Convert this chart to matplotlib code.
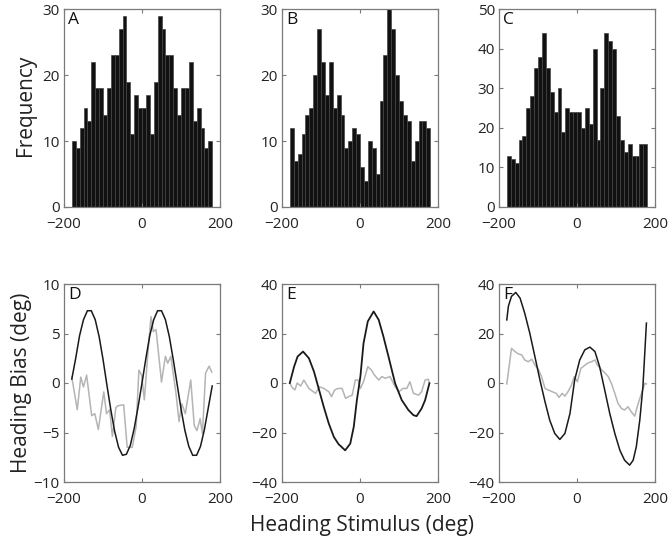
import numpy as np
import matplotlib
matplotlib.use("Agg")
import matplotlib.pyplot as plt

plt.rcParams["font.family"] = ["Open Sans", "DejaVu Sans"]

# --------------------------------------------------------------------
# Data
# --------------------------------------------------------------------
bin_centers = np.arange(-175, 180, 10)

freq_a = [10, 9, 12, 15, 13, 22, 18, 18, 14, 18, 23, 23, 27, 29, 19, 11, 17, 15,
          15, 17, 11, 19, 29, 27, 23, 23, 18, 14, 18, 18, 22, 13, 15, 12, 9, 10]
freq_b = [12, 7, 8, 11, 14, 15, 20, 27, 22, 17, 22, 15, 17, 14, 9, 10, 12, 11,
          6, 4, 10, 9, 5, 16, 23, 30, 27, 20, 16, 14, 13, 7, 10, 13, 13, 12]
freq_c = [13, 12, 11, 17, 18, 25, 28, 35, 38, 44, 35, 29, 24, 30, 19, 25, 24, 24,
          24, 20, 25, 21, 40, 17, 30, 44, 42, 40, 23, 17, 14, 16, 13, 13, 16, 16]

# panel D
d_model_x = list(range(-180, 181, 10))
d_model_y = [0.4, 2.5, 4.8, 6.4, 7.3, 7.3, 6.4, 4.7, 2.4, -0.2, -2.7, -4.9, -6.5,
             -7.3, -7.2, -6.3, -4.6, -2.4, 0.0, 2.5, 4.8, 6.4, 7.3, 7.3, 6.4, 4.7,
             2.4, -0.1, -2.6, -4.8, -6.4, -7.3, -7.3, -6.4, -4.7, -2.5, -0.3]
d_data_x = [-180, -166, -157, -150, -142, -129, -121, -112, -98, -91, -83, -76,
            -67, -62, -47, -38, -25, -15, -8, -1, 6, 15, 23, 29, 36, 50, 60, 66,
            74, 87, 95, 102, 111, 125, 134, 141, 149, 155, 163, 172, 179]
d_data_y = [0.6, -2.7, 0.6, -0.4, 0.8, -3.3, -3.1, -4.7, -0.9, -3.1, -2.7, -5.4,
            -2.5, -2.3, -2.2, -6.5, -6.5, -4.4, 1.3, 0.8, -1.7, 3.0, 6.7, 5.2, 5.4,
            0.1, 2.7, 2.0, 2.7, -1.0, -3.9, -2.1, -3.1, 0.3, -4.3, -4.8, -3.6, -5.1,
            1.0, 1.7, 1.1]

# panel E
e_model_x = [-180, -169, -160, -146, -131, -118, -106, -93, -80, -67, -55, -38,
             -25, -16, -8, 1, 9, 20, 35, 48, 60, 73, 90, 107, 124, 137, 145, 158,
             167, 178]
e_model_y = [0.0, 6.6, 10.7, 12.7, 10.0, 4.6, -2.2, -9.6, -16.4, -21.8, -24.7,
             -27.2, -24.5, -17.7, -6.9, 2.6, 16.0, 24.9, 28.9, 25.5, 18.8, 10.7,
             -0.1, -6.9, -10.9, -13.0, -13.4, -10.3, -6.9, -0.1]
e_data_x = [-180, -174, -167, -161, -152, -144, -131, -114, -104, -93, -80, -73,
            -65, -56, -46, -37, -29, -20, -12, -5, 1, 9, 20, 29, 37, 48, 56, 65, 77,
            90, 100, 110, 120, 128, 137, 150, 158, 167, 175, 178]
e_data_y = [0.0, -1.8, -2.8, 0.0, -1.2, 1.2, -2.2, -4.2, -1.5, -2.2, -3.5, -5.5,
            -2.8, -2.2, -2.2, -6.2, -5.5, -4.9, 1.2, 1.2, -2.2, 0.5, 6.6, 5.3, 3.2,
            1.2, 2.6, 1.9, 2.6, -1.5, -3.5, -2.2, -2.2, 0.5, -4.2, -4.9, -3.5, 1.2,
            1.5, 0.0]

# panel F
f_model_x = [-180, -176, -168, -157, -146, -134, -121, -108, -95, -82, -70, -57,
             -44, -31, -18, -6, 7, 20, 33, 46, 58, 71, 84, 97, 110, 122, 135, 144,
             152, 161, 169, 178]
f_model_y = [25.5, 31.0, 35.0, 36.6, 34.3, 28.2, 20.1, 10.7, 1.2, -7.6, -15.0,
             -20.4, -22.8, -20.4, -12.3, 1.2, 9.3, 13.4, 14.5, 12.7, 6.6, -2.8,
             -12.3, -20.4, -27.2, -31.2, -33.2, -31.2, -25.8, -15.0, -1.5, 24.2]
f_data_x = [-180, -168, -159, -151, -142, -134, -125, -116, -108, -99, -91, -82,
            -74, -64, -53, -46, -38, -31, -23, -14, -7, 1, 10, 18, 27, 37, 46, 52,
            63, 71, 80, 88, 97, 105, 114, 122, 131, 139, 148, 157, 167, 174, 178]
f_data_y = [-0.4, 14.0, 12.7, 11.8, 11.4, 9.3, 8.6, 9.6, 7.3, 5.5, 2.6, -2.2,
            -2.8, -3.5, -4.2, -5.8, -4.2, -5.3, -3.5, -0.8, 2.6, 0.5, 5.9, 6.9, 8.0,
            8.6, 9.3, 7.3, 5.3, 4.2, 2.6, -0.1, -4.2, -8.2, -10.3, -10.9, -9.6,
            -11.6, -13.4, -8.2, -3.5, -0.1, -0.4]

hist_sets = [("A", freq_a, 30), ("B", freq_b, 30), ("C", freq_c, 50)]
line_sets = [("D", d_model_x, d_model_y, d_data_x, d_data_y, 10),
             ("E", e_model_x, e_model_y, e_data_x, e_data_y, 40),
             ("F", f_model_x, f_model_y, f_data_x, f_data_y, 40)]

# --------------------------------------------------------------------
# Layout
# --------------------------------------------------------------------
W, H = 672, 542
fig = plt.figure(figsize=(W / 100, H / 100), dpi=100)
lefts = [64, 282, 499]
ax_w = 156
top_row = (9, 207)
bot_row = (284, 482)
SPINE = "#7a7a7a"


def make_axes(left, rows):
    top, bottom = rows
    return fig.add_axes([left / W, 1 - bottom / H, ax_w / W, (bottom - top) / H])


def style(ax, ymax, ymin, letter):
    ax.set_xlim(-200, 200)
    ax.set_ylim(ymin, ymax)
    ax.set_xticks([-200, 0, 200])
    ax.tick_params(direction="in", length=3, width=0.8, color=SPINE,
                   top=True, right=True, labelsize=11, labelcolor="#222222")
    ax.tick_params(axis="x", pad=7)
    ax.tick_params(axis="y", pad=3)
    for s in ax.spines.values():
        s.set_color(SPINE)
        s.set_linewidth(0.9)
    ax.text(0.025, 0.985, letter, transform=ax.transAxes, ha="left", va="top",
            fontsize=12.5, color="#111111")


for left, (letter, freq, ymax) in zip(lefts, hist_sets):
    ax = make_axes(left, top_row)
    ax.bar(bin_centers, freq, width=10, color="#111111", edgecolor="#444444",
           linewidth=0.5)
    style(ax, ymax, 0, letter)
    ax.set_yticks(np.arange(0, ymax + 1, 10))

for left, (letter, mx, my, dx, dy, lim) in zip(lefts, line_sets):
    ax = make_axes(left, bot_row)
    ax.plot(dx, dy, color="#b4b4b4", linewidth=1.1)
    ax.plot(mx, my, color="#1a1a1a", linewidth=1.3 if letter == "E" else 1.1)
    style(ax, lim, -lim, letter)
    ax.set_yticks(np.linspace(-lim, lim, 5))

fig.text(25 / W, 1 - 105 / H, "Frequency", rotation=90, ha="center",
         va="center", fontsize=15, color="#222222")
fig.text(22 / W, 1 - 383 / H, "Heading Bias (deg)", rotation=90, ha="center",
         va="center", fontsize=15, color="#222222")
fig.text(362 / W, 1 - 525 / H, "Heading Stimulus (deg)", ha="center",
         va="center", fontsize=15, color="#222222")

fig.savefig("out.png", dpi=100)
